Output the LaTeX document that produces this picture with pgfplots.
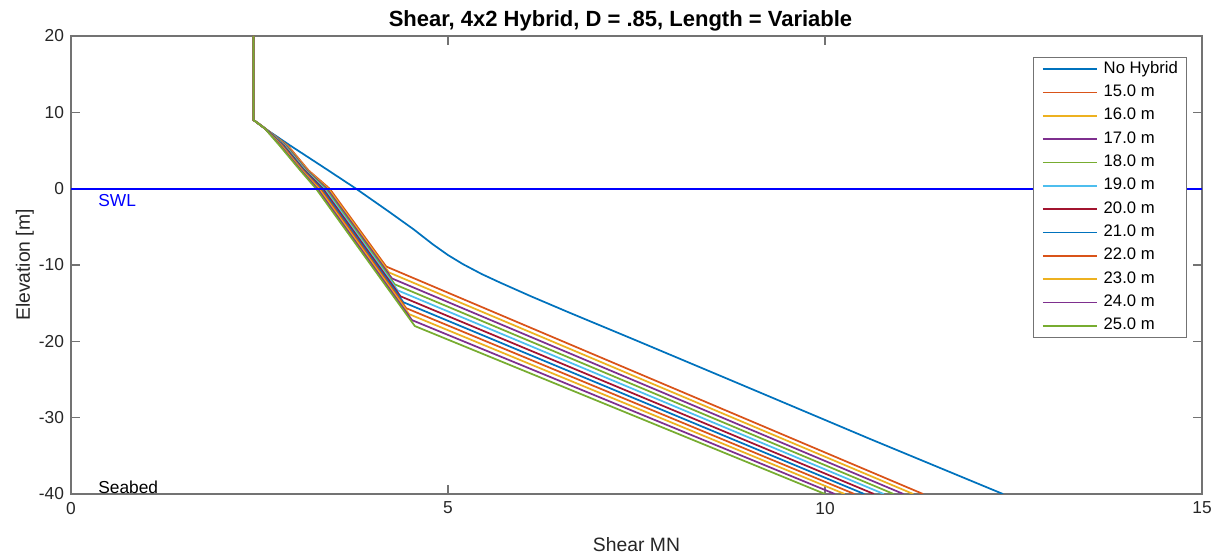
\documentclass[border=0pt]{standalone}
\usepackage{pgfplots}
\pgfplotsset{compat=1.18}
\usepackage{fontspec}
\setmainfont{Liberation Sans}
\definecolor{m1}{rgb}{0,0.447,0.741}
\definecolor{m2}{rgb}{0.850,0.325,0.098}
\definecolor{m3}{rgb}{0.929,0.694,0.125}
\definecolor{m4}{rgb}{0.494,0.184,0.556}
\definecolor{m5}{rgb}{0.466,0.674,0.188}
\definecolor{m6}{rgb}{0.301,0.745,0.933}
\definecolor{m7}{rgb}{0.635,0.078,0.184}
\begin{document}
\begin{tikzpicture}
\useasboundingbox (0,0) rectangle (915pt,417pt);
\begin{axis}[
  at={(53.25pt,46.5pt)}, anchor=south west,
  scale only axis, width=848.25pt, height=343.5pt,
  xmin=0, xmax=15, ymin=-40, ymax=20,
  xtick={0,5,10,15}, xticklabels={0,5,10,15},
  ytick={-40,-30,-20,-10,0,10,20}, yticklabels={-40,-30,-20,-10,0,10,20},
  tick align=inside, major tick length=7pt,
  axis line style={black!55, line width=0.8pt},
  every tick/.style={black!55, line width=0.8pt},
  ticklabel style={font=\fontsize{13}{15}\selectfont, text=black!85},
  yticklabel style={xshift=-1.7pt},
  xticklabel style={yshift=-2.4pt},
  title={\bfseries Shear, 4x2 Hybrid, D = .85, Length = Variable},
  title style={font=\fontsize{16.5}{19}\selectfont, at={(axis description cs:0.5,1.0218)}, anchor=base, yshift=-6pt, xshift=-12pt},
  xlabel={Shear MN},
  xlabel style={font=\fontsize{14.5}{17}\selectfont, text=black!85, at={(axis description cs:0.5,-0.1245)}, anchor=base},
  ylabel={Elevation [m]},
  ylabel style={font=\fontsize{14.5}{17}\selectfont, text=black!85, at={(axis description cs:-0.0363,0.5)}, anchor=base},
  every axis plot/.append style={line width=1.3pt},
  legend cell align=left,
  legend image code/.code={\draw[#1] (0pt,0pt) -- (40.5pt,0pt);},
  legend style={at={(axis description cs:1,1)}, anchor=north east, xshift=-11.25pt, yshift=-15.75pt,
    draw=black!55, line width=0.8pt, font=\fontsize{12.5}{14}\selectfont,
    inner xsep=6.5pt, inner ysep=2.75pt, row sep=5.5pt, column sep=4.5pt,
    nodes={inner sep=0pt, text height=9pt, text depth=3pt}},
]
% No Hybrid
\addplot[m1] coordinates {(2.42,20) (2.42,9.0) (2.57,7.9) (2.90,5.7) (3.35,2.8) (3.78,0) (4.20,-2.9) (4.54,-5.3) (4.80,-7.3) (5.00,-8.7) (5.20,-9.9) (5.45,-11.2) (5.69,-12.3) (6.10,-14.1) (6.60,-16.2) (7.50,-19.9) (8.80,-25.3) (10.60,-32.8) (12.36,-40)};
\addlegendentry{No Hybrid}
% 15.0 m
\addplot[m2] coordinates {(2.42,20) (2.42,9.0) (2.57,7.9) (2.880,5.6) (3.150,2.4) (3.430,0) (4.180,-10.20) (11.30,-40)};
\addlegendentry{15.0 m}
% 16.0 m
\addplot[m3] coordinates {(2.42,20) (2.42,9.0) (2.57,7.9) (2.869,5.6) (3.139,2.4) (3.412,0) (4.218,-10.98) (11.17,-40)};
\addlegendentry{16.0 m}
% 17.0 m
\addplot[m4] coordinates {(2.42,20) (2.42,9.0) (2.57,7.9) (2.858,5.6) (3.128,2.4) (3.394,0) (4.256,-11.76) (11.04,-40)};
\addlegendentry{17.0 m}
% 18.0 m
\addplot[m5] coordinates {(2.42,20) (2.42,9.0) (2.57,7.9) (2.847,5.6) (3.117,2.4) (3.376,0) (4.294,-12.54) (10.91,-40)};
\addlegendentry{18.0 m}
% 19.0 m
\addplot[m6] coordinates {(2.42,20) (2.42,9.0) (2.57,7.9) (2.836,5.6) (3.106,2.4) (3.358,0) (4.332,-13.32) (10.78,-40)};
\addlegendentry{19.0 m}
% 20.0 m
\addplot[m7] coordinates {(2.42,20) (2.42,9.0) (2.57,7.9) (2.825,5.6) (3.095,2.4) (3.340,0) (4.370,-14.10) (10.65,-40)};
\addlegendentry{20.0 m}
% 21.0 m
\addplot[m1] coordinates {(2.42,20) (2.42,9.0) (2.57,7.9) (2.814,5.6) (3.084,2.4) (3.322,0) (4.408,-14.88) (10.52,-40)};
\addlegendentry{21.0 m}
% 22.0 m
\addplot[m2] coordinates {(2.42,20) (2.42,9.0) (2.57,7.9) (2.803,5.6) (3.073,2.4) (3.304,0) (4.446,-15.66) (10.39,-40)};
\addlegendentry{22.0 m}
% 23.0 m
\addplot[m3] coordinates {(2.42,20) (2.42,9.0) (2.57,7.9) (2.792,5.6) (3.062,2.4) (3.286,0) (4.484,-16.44) (10.26,-40)};
\addlegendentry{23.0 m}
% 24.0 m
\addplot[m4] coordinates {(2.42,20) (2.42,9.0) (2.57,7.9) (2.781,5.6) (3.051,2.4) (3.268,0) (4.522,-17.22) (10.13,-40)};
\addlegendentry{24.0 m}
% 25.0 m
\addplot[m5] coordinates {(2.42,20) (2.42,9.0) (2.57,7.9) (2.770,5.6) (3.040,2.4) (3.250,0) (4.560,-18.00) (10.00,-40)};
\addlegendentry{25.0 m}
% SWL
\addplot[blue, line width=1.3pt, forget plot] coordinates {(0,0) (15,0)};
\node[anchor=west, text=blue, font=\fontsize{13}{15}\selectfont] at (axis cs:0.30,-1.6) {SWL};
\node[anchor=west, text=black, font=\fontsize{13}{15}\selectfont] at (axis cs:0.30,-39.1) {Seabed};
\end{axis}
\end{tikzpicture}
\end{document}
